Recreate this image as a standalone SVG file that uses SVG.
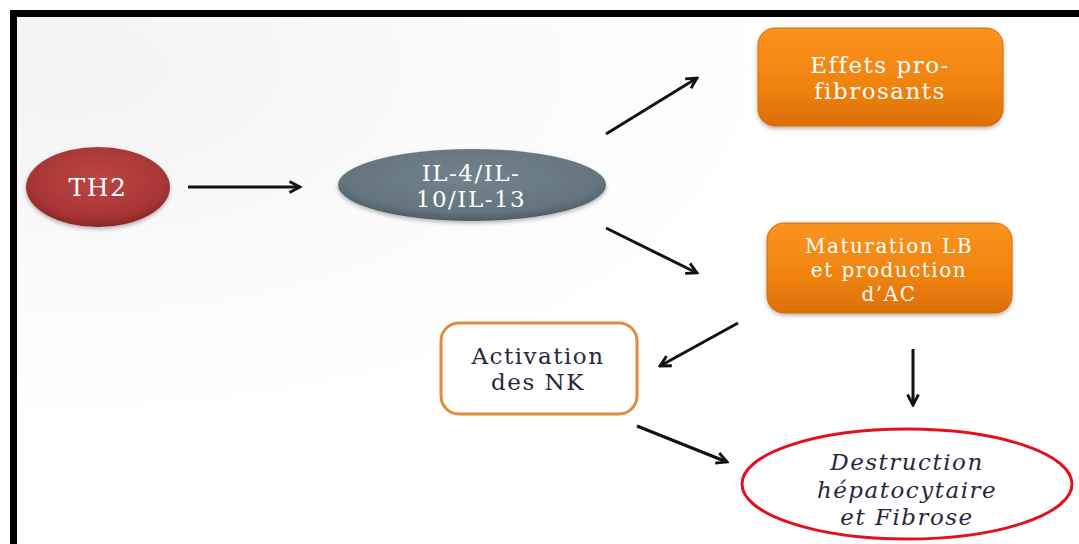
<svg xmlns="http://www.w3.org/2000/svg" width="1079" height="544" viewBox="0 0 1079 544">
<defs>
<radialGradient id="bg" cx="0.05" cy="0.1" r="0.7">
<stop offset="0" stop-color="#f2f2f2"/>
<stop offset="0.5" stop-color="#fafafa"/>
<stop offset="1" stop-color="#ffffff"/>
</radialGradient>
<radialGradient id="red" cx="0.5" cy="0.4" r="0.6">
<stop offset="0" stop-color="#bd4544"/>
<stop offset="0.8" stop-color="#a73535"/>
<stop offset="1" stop-color="#8a2626"/>
</radialGradient>
<radialGradient id="gray" cx="0.5" cy="0.4" r="0.6">
<stop offset="0" stop-color="#72838d"/>
<stop offset="0.8" stop-color="#64757f"/>
<stop offset="1" stop-color="#4d5c65"/>
</radialGradient>
<linearGradient id="orange" x1="0" y1="0" x2="0" y2="1">
<stop offset="0" stop-color="#fb9420"/>
<stop offset="0.6" stop-color="#f0820e"/>
<stop offset="1" stop-color="#dc6f05"/>
</linearGradient>
<filter id="sh" x="-10%" y="-10%" width="120%" height="130%">
<feDropShadow dx="0" dy="2" stdDeviation="2" flood-color="#000" flood-opacity="0.3"/>
</filter>
<marker id="ah" viewBox="0 0 14 14" refX="12" refY="7" markerWidth="14" markerHeight="14" markerUnits="userSpaceOnUse" orient="auto">
<path d="M1.5,1.5 L12,7 L1.5,12.5" fill="none" stroke="#111" stroke-width="2.8" stroke-linejoin="miter"/>
</marker>
<style>
.w{font-family:"DejaVu Serif","Liberation Serif",serif;fill:#ffffff;text-anchor:middle;letter-spacing:1.5px}
.d{font-family:"DejaVu Serif","Liberation Serif",serif;fill:#2a2540;text-anchor:middle;letter-spacing:1.5px}
.c{stroke:#111;stroke-width:3;fill:none;marker-end:url(#ah)}
</style>
</defs>
<rect x="0" y="0" width="1079" height="544" fill="#ffffff"/>
<rect x="14" y="14" width="1065" height="530" fill="url(#bg)"/>
<rect x="10" y="10" width="1069" height="7" fill="#000"/>
<rect x="10" y="10" width="7" height="534" fill="#000"/>

<g id="connectors">
<line class="c" x1="188" y1="187" x2="300" y2="187"/>
<line class="c" x1="606" y1="134" x2="697" y2="78"/>
<line class="c" x1="606" y1="228" x2="697" y2="273"/>
<line class="c" x1="738" y1="323" x2="660" y2="366"/>
<line class="c" x1="913" y1="349" x2="913" y2="405"/>
<line class="c" x1="637" y1="426" x2="727" y2="462"/>
</g>

<g id="th2">
<ellipse cx="98" cy="187" rx="72" ry="40" fill="url(#red)" filter="url(#sh)"/>
<text class="w" x="98" y="196" font-size="25">TH2</text>
</g>

<g id="il">
<ellipse cx="472" cy="185" rx="134" ry="36" fill="url(#gray)" filter="url(#sh)"/>
<text class="w" x="471" y="181" font-size="23">IL-4/IL-</text>
<text class="w" x="471" y="207" font-size="23">10/IL-13</text>
</g>

<g id="effets">
<rect x="758" y="28" width="245" height="98" rx="17" fill="url(#orange)" stroke="#d46c05" stroke-width="1" filter="url(#sh)"/>
<text class="w" x="880" y="73" font-size="23">Effets pro-</text>
<text class="w" x="880" y="99" font-size="23">fibrosants</text>
</g>

<g id="maturation">
<rect x="767" y="223" width="245" height="90" rx="17" fill="url(#orange)" stroke="#d46c05" stroke-width="1" filter="url(#sh)"/>
<text class="w" x="889" y="253" font-size="20">Maturation LB</text>
<text class="w" x="889" y="277" font-size="20">et production</text>
<text class="w" x="889" y="301" font-size="20">d’AC</text>
</g>

<g id="activation">
<rect x="441" y="323" width="196" height="91" rx="18" fill="#ffffff" stroke="#e08a3c" stroke-width="3"/>
<text class="d" x="538" y="364" font-size="23">Activation</text>
<text class="d" x="538" y="390" font-size="23">des NK</text>
</g>

<g id="destruction">
<ellipse cx="907" cy="484" rx="165" ry="55" fill="#ffffff" fill-opacity="0.6" stroke="#e3111b" stroke-width="3"/>
<text class="d" x="907" y="470" font-size="23" font-style="italic" letter-spacing="2">Destruction</text>
<text class="d" x="907" y="498" font-size="23" font-style="italic" letter-spacing="2">hépatocytaire</text>
<text class="d" x="907" y="525" font-size="23" font-style="italic" letter-spacing="2">et Fibrose</text>
</g>
</svg>
